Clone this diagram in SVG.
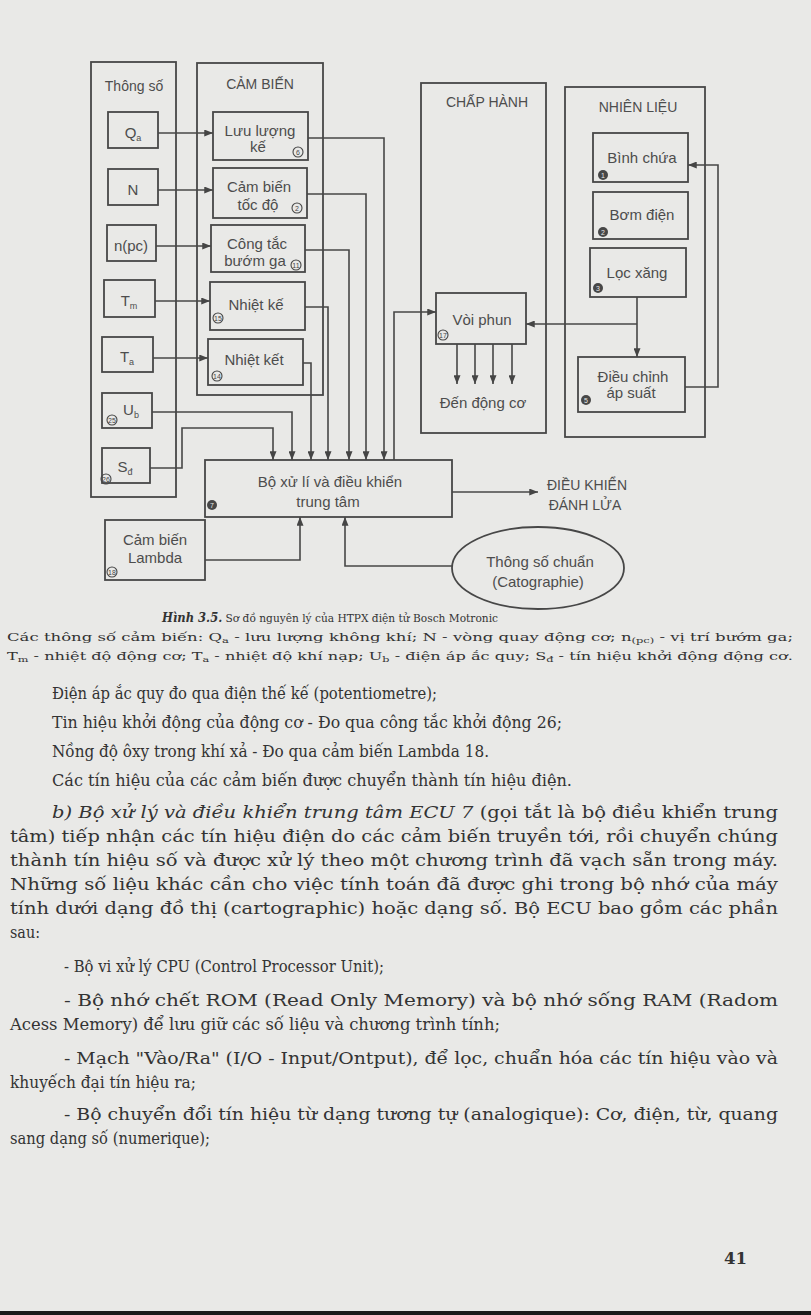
<svg xmlns="http://www.w3.org/2000/svg" width="811" height="1315" viewBox="0 0 811 1315">
<defs>
<marker id="ah" viewBox="0 0 10 8" refX="10" refY="4" markerWidth="9" markerHeight="7" markerUnits="userSpaceOnUse" orient="auto"><path d="M0,0 L10,4 L0,8 z" fill="#454545"/></marker>
<style>
.ln{fill:none;stroke:#474747;stroke-width:1.6}
.bx{fill:none;stroke:#474747;stroke-width:1.8}
.t{font-family:"Liberation Sans",Arial,sans-serif;font-size:15px;fill:#4d4d4d;text-anchor:middle}
.h{font-family:"Liberation Sans",Arial,sans-serif;font-size:14px;fill:#4d4d4d;text-anchor:middle}
.nc{fill:none;stroke:#474747;stroke-width:1.1}
.nf{fill:#474747;stroke:none}
.nt{font-family:"Liberation Sans",Arial,sans-serif;font-size:7px;fill:#474747;text-anchor:middle}
.nw{font-family:"Liberation Sans",Arial,sans-serif;font-size:7px;fill:#e8e8e6;text-anchor:middle}
.c{font-family:"DejaVu Serif",serif;fill:#333}
.b{font-family:"DejaVu Serif",serif;font-size:16.5px;fill:#333}
</style>
</defs>
<rect x="0" y="0" width="811" height="1315" fill="#e9e9e7"/>

<!-- panels -->
<g id="panel-thongso"><rect class="bx" x="91" y="62" width="85" height="435"/><text class="h" x="134" y="91">Thông số</text></g>
<g id="panel-cambien"><rect class="bx" x="197" y="63" width="126" height="332"/><text class="h" x="260" y="89">CẢM BIẾN</text></g>
<g id="panel-chaphanh"><rect class="bx" x="421" y="83" width="125" height="350"/><text class="h" x="487" y="107">CHẤP HÀNH</text></g>
<g id="panel-nhienlieu"><rect class="bx" x="565" y="87" width="140" height="350"/><text class="h" x="638" y="112">NHIÊN LIỆU</text></g>

<!-- parameter boxes -->
<g id="qa"><rect class="bx" x="108" y="112" width="50" height="36"/><text class="t" x="133" y="138">Q<tspan font-size="9" dy="3">a</tspan></text></g>
<g id="n"><rect class="bx" x="108" y="169" width="50" height="36"/><text class="t" x="133" y="195">N</text></g>
<g id="npc"><rect class="bx" x="107" y="225" width="49" height="36"/><text class="t" x="131" y="251">n(pc)</text></g>
<g id="tm"><rect class="bx" x="104" y="280" width="51" height="37"/><text class="t" x="129" y="306">T<tspan font-size="9" dy="3">m</tspan></text></g>
<g id="ta"><rect class="bx" x="102" y="337" width="51" height="35"/><text class="t" x="127" y="362">T<tspan font-size="9" dy="3">a</tspan></text></g>
<g id="ub"><rect class="bx" x="102" y="393" width="50" height="35"/><text class="t" x="131" y="415">U<tspan font-size="9" dy="3">b</tspan></text><circle class="nc" cx="112" cy="420" r="5"/><text class="nt" x="112" y="422.5">25</text></g>
<g id="ss"><rect class="bx" x="102" y="448" width="48" height="35"/><text class="t" x="125" y="472">S<tspan font-size="9" dy="3">đ</tspan></text><circle class="nc" cx="106" cy="479" r="5"/><text class="nt" x="106" y="481.5">26</text></g>

<!-- sensor boxes -->
<g id="luuluongke"><rect class="bx" x="213" y="112" width="95" height="48"/><text class="t" x="260" y="136">Lưu lượng</text><text class="t" x="258" y="152">kế</text><circle class="nc" cx="298" cy="152" r="5"/><text class="nt" x="298" y="154.5">6</text></g>
<g id="tocdo"><rect class="bx" x="213" y="168" width="94" height="50"/><text class="t" x="259" y="192">Cảm biến</text><text class="t" x="258" y="210">tốc độ</text><circle class="nc" cx="297" cy="208" r="5"/><text class="nt" x="297" y="210.5">2</text></g>
<g id="buomga"><rect class="bx" x="211" y="225" width="94" height="47"/><text class="t" x="257" y="249">Công tắc</text><text class="t" x="255" y="266">bướm ga</text><circle class="nc" cx="296" cy="265" r="5"/><text class="nt" x="296" y="267.5">11</text></g>
<g id="nhietke"><rect class="bx" x="210" y="282" width="95" height="48"/><text class="t" x="256" y="310">Nhiệt kế</text><circle class="nc" cx="218" cy="318" r="5"/><text class="nt" x="218" y="320.5">15</text></g>
<g id="nhietket"><rect class="bx" x="208" y="339" width="95" height="46"/><text class="t" x="254" y="365">Nhiệt kết</text><circle class="nc" cx="217" cy="376" r="5"/><text class="nt" x="217" y="378.5">14</text></g>

<!-- ECU -->
<g id="ecu"><rect class="bx" x="205" y="460" width="247" height="57"/><text class="t" x="330" y="487">Bộ xử lí và điều khiển</text><text class="t" x="328" y="507">trung tâm</text><circle class="nf" cx="212" cy="505" r="5"/><text class="nw" x="212" y="507.5">7</text></g>

<!-- Lambda -->
<g id="lambda"><rect class="bx" x="105" y="520" width="100" height="60"/><text class="t" x="155" y="545">Cảm biến</text><text class="t" x="155" y="563">Lambda</text><circle class="nc" cx="112" cy="572" r="5"/><text class="nt" x="112" y="574.5">18</text></g>

<!-- ellipse -->
<g id="thongsochuan"><ellipse class="bx" cx="538" cy="568" rx="86" ry="41"/><text class="t" x="540" y="567">Thông số chuẩn</text><text class="t" x="538" y="587">(Catographie)</text></g>

<!-- ignition label -->
<g id="danhlua"><text class="h" x="587" y="490">ĐIỀU KHIỂN</text><text class="h" x="585" y="510">ĐÁNH LỬA</text></g>

<!-- injector -->
<g id="voiphun"><rect class="bx" x="436" y="293" width="90" height="51"/><text class="t" x="482" y="325">Vòi phun</text><circle class="nc" cx="443" cy="335" r="5"/><text class="nt" x="443" y="337.5">17</text></g>
<g id="dendongco"><text class="t" x="483" y="408">Đến động cơ</text></g>

<!-- fuel -->
<g id="binhchua"><rect class="bx" x="593" y="133" width="95" height="49"/><text class="t" x="642" y="163">Bình chứa</text><circle class="nf" cx="603" cy="175" r="5"/><text class="nw" x="603" y="177.5">1</text></g>
<g id="bomdien"><rect class="bx" x="593" y="192" width="95" height="47"/><text class="t" x="642" y="220">Bơm điện</text><circle class="nf" cx="603" cy="232" r="5"/><text class="nw" x="603" y="234.5">2</text></g>
<g id="locxang"><rect class="bx" x="590" y="248" width="96" height="49"/><text class="t" x="637" y="278">Lọc xăng</text><circle class="nf" cx="598" cy="288" r="5"/><text class="nw" x="598" y="290.5">3</text></g>
<g id="dieuchinh"><rect class="bx" x="578" y="357" width="107" height="55"/><text class="t" x="633" y="382">Điều chỉnh</text><text class="t" x="631" y="398">áp suất</text><circle class="nf" cx="586" cy="400" r="5"/><text class="nw" x="586" y="402.5">5</text></g>

<!-- connectors -->
<g id="connectors">
<path class="ln" marker-end="url(#ah)" d="M158,133 H213"/>
<path class="ln" marker-end="url(#ah)" d="M158,190 H213"/>
<path class="ln" marker-end="url(#ah)" d="M156,246 H211"/>
<path class="ln" marker-end="url(#ah)" d="M155,301 H210"/>
<path class="ln" marker-end="url(#ah)" d="M153,358 H208"/>
<path class="ln" marker-end="url(#ah)" d="M308,138 H384 V460"/>
<path class="ln" marker-end="url(#ah)" d="M307,194 H366 V460"/>
<path class="ln" marker-end="url(#ah)" d="M305,250 H349 V460"/>
<path class="ln" marker-end="url(#ah)" d="M305,307 H328 V460"/>
<path class="ln" marker-end="url(#ah)" d="M303,363 H311 V460"/>
<path class="ln" marker-end="url(#ah)" d="M152,412 H292 V460"/>
<path class="ln" marker-end="url(#ah)" d="M150,468 H182 V428 H273 V460"/>
<path class="ln" marker-end="url(#ah)" d="M394,460 V312 H436"/>
<path class="ln" marker-end="url(#ah)" d="M452,492 H538"/>
<path class="ln" marker-end="url(#ah)" d="M205,560 H300 V517"/>
<path class="ln" marker-end="url(#ah)" d="M452,566 H345 V517"/>
<path class="ln" marker-end="url(#ah)" d="M457,344 V384"/>
<path class="ln" marker-end="url(#ah)" d="M475,344 V384"/>
<path class="ln" marker-end="url(#ah)" d="M493,344 V384"/>
<path class="ln" marker-end="url(#ah)" d="M512,344 V384"/>
<path class="ln" marker-end="url(#ah)" d="M637,297 V357"/>
<path class="ln" marker-end="url(#ah)" d="M637,324 H526"/>
<path class="ln" marker-end="url(#ah)" d="M685,387 H718 V165 H688"/>
</g>

<!-- caption -->
<g id="caption">
<text class="c" x="162" y="622" font-size="11.5" textLength="336" lengthAdjust="spacingAndGlyphs"><tspan font-weight="bold" font-style="italic" font-size="12.5">Hình 3.5.</tspan> Sơ đồ nguyên lý của HTPX điện tử Bosch Motronic</text>
<text class="c" x="7" y="641" font-size="11.5" textLength="786" lengthAdjust="spacingAndGlyphs">Các thông số cảm biến: Q<tspan font-size="8" dy="2">a</tspan><tspan dy="-2"> - lưu lượng không khí; N - vòng quay động cơ; n</tspan><tspan font-size="8" dy="2">(pc)</tspan><tspan dy="-2"> - vị trí bướm ga;</tspan></text>
<text class="c" x="7" y="660" font-size="11.5" textLength="786" lengthAdjust="spacingAndGlyphs">T<tspan font-size="8" dy="2">m</tspan><tspan dy="-2"> - nhiệt độ động cơ; T</tspan><tspan font-size="8" dy="2">a</tspan><tspan dy="-2"> - nhiệt độ khí nạp; U</tspan><tspan font-size="8" dy="2">b</tspan><tspan dy="-2"> - điện áp ắc quy; S</tspan><tspan font-size="8" dy="2">đ</tspan><tspan dy="-2"> - tín hiệu khởi động động cơ.</tspan></text>
</g>

<!-- body text -->
<g id="body">
<text class="b" x="52" y="699" textLength="385" lengthAdjust="spacingAndGlyphs">Điện áp ắc quy đo qua điện thế kế (potentiometre);</text>
<text class="b" x="52" y="728" textLength="510" lengthAdjust="spacingAndGlyphs">Tin hiệu khởi động của động cơ - Đo qua công tắc khởi động 26;</text>
<text class="b" x="52" y="757" textLength="437" lengthAdjust="spacingAndGlyphs">Nồng độ ôxy trong khí xả - Đo qua cảm biến Lambda 18.</text>
<text class="b" x="52" y="786" textLength="520" lengthAdjust="spacingAndGlyphs">Các tín hiệu của các cảm biến được chuyển thành tín hiệu điện.</text>
<text class="b" x="52" y="818" textLength="726" lengthAdjust="spacingAndGlyphs"><tspan font-style="italic">b) Bộ xử lý và điều khiển trung tâm ECU 7</tspan> (gọi tắt là bộ điều khiển trung</text>
<text class="b" x="10" y="842" textLength="768" lengthAdjust="spacingAndGlyphs">tâm) tiếp nhận các tín hiệu điện do các cảm biến truyền tới, rồi chuyển chúng</text>
<text class="b" x="10" y="866" textLength="768" lengthAdjust="spacingAndGlyphs">thành tín hiệu số và được xử lý theo một chương trình đã vạch sẵn trong máy.</text>
<text class="b" x="10" y="890" textLength="768" lengthAdjust="spacingAndGlyphs">Những số liệu khác cần cho việc tính toán đã được ghi trong bộ nhớ của máy</text>
<text class="b" x="10" y="914" textLength="768" lengthAdjust="spacingAndGlyphs">tính dưới dạng đồ thị (cartographic) hoặc dạng số. Bộ ECU bao gồm các phần</text>
<text class="b" x="10" y="938" textLength="30" lengthAdjust="spacingAndGlyphs">sau:</text>
<text class="b" x="64" y="972" textLength="320" lengthAdjust="spacingAndGlyphs">- Bộ vi xử lý CPU (Control Processor Unit);</text>
<text class="b" x="64" y="1006" textLength="714" lengthAdjust="spacingAndGlyphs">- Bộ nhớ chết ROM (Read Only Memory) và bộ nhớ sống RAM (Radom</text>
<text class="b" x="10" y="1030" textLength="490" lengthAdjust="spacingAndGlyphs">Acess Memory) để lưu giữ các số liệu và chương trình tính;</text>
<text class="b" x="64" y="1064" textLength="714" lengthAdjust="spacingAndGlyphs">- Mạch "Vào/Ra" (I/O - Input/Ontput), để lọc, chuẩn hóa các tín hiệu vào và</text>
<text class="b" x="10" y="1088" textLength="186" lengthAdjust="spacingAndGlyphs">khuyếch đại tín hiệu ra;</text>
<text class="b" x="64" y="1120" textLength="714" lengthAdjust="spacingAndGlyphs">- Bộ chuyển đổi tín hiệu từ dạng tương tự (analogique): Cơ, điện, từ, quang</text>
<text class="b" x="10" y="1144" textLength="200" lengthAdjust="spacingAndGlyphs">sang dạng số (numerique);</text>
<text class="b" x="724" y="1264" font-size="16" font-weight="bold" fill="#555">41</text>
</g>
<rect x="0" y="1311" width="811" height="4" fill="#1a1a1a"/>
</svg>
